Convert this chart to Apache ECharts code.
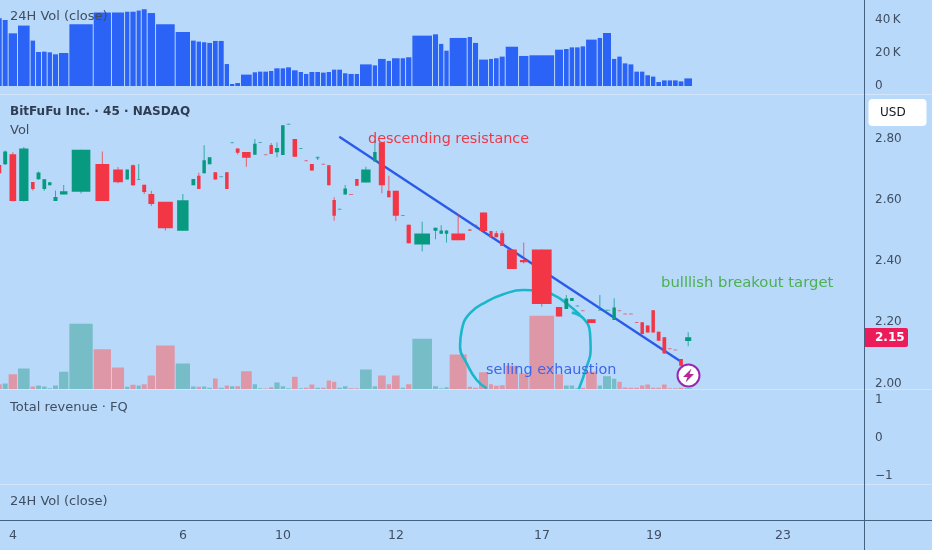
<!DOCTYPE html>
<html><head><meta charset="utf-8">
<style>html,body{margin:0;padding:0;background:#B9D9FB}#c{width:932px;height:550px}</style>
<script src="https://cdn.jsdelivr.net/npm/echarts@6/dist/echarts.min.js"></script>
</head><body><div id="c"></div><script>
// bar open time, minutes from the left edge of the window
const barTime=[-24,22,70,146,248,292,340,386,429,478,562,759,907,1013,1056,1107,1148,1196,1264,1423,1547,1593,1636,1679,1725,1771,1820,1863,1906,1952,2047,2090,2133,2179,2222,2273,2317,2365,2419,2462,2506,2554,2600,2646,2689,2732,2778,2822,2873,2916,3019,3062,3132,3175,3245,3289,3340,3507,3556,3599,3642,3788,3831,3880,3961,4001,4047,4096,4204,4288,4496,4568,4614,4658,4703,4747,4841,4884,4957,5000,5044,5090,5138,5184,5227,5273,5316,5362,5408,5451,5497,5543];
const lastBarEnd=5613;
const vol24h=[41.0,40.0,31.9,36.6,27.5,20.6,20.8,20.4,19.2,20.0,37.4,44.6,44.6,45.0,45.0,45.7,46.5,44.2,37.4,32.7,27.5,26.9,26.5,26.1,27.3,27.3,13.3,1.2,1.8,6.9,8.3,8.7,8.7,9.1,10.7,10.7,11.3,9.5,8.5,7.3,8.5,8.5,8.1,8.5,9.9,9.9,7.7,7.3,7.3,13.1,12.5,16.4,15.2,16.8,16.8,17.4,30.5,31.3,25.5,21.4,29.1,29.7,26.1,16.0,16.4,16.8,17.8,23.8,18.2,18.6,22.0,22.4,23.4,23.4,24.0,28.1,29.1,32.1,16.4,17.8,13.7,13.1,8.7,8.7,6.5,5.7,2.4,3.4,3.4,3.4,2.8,4.6];
const volume=[16,18,46,63,9,12,9,4,12,53,197,121,66,8,14,12,16,42,132,78,9,8,9,5,33,5,12,10,10,55,16,4,3,7,21,10,4,38,4,5,15,5,5,27,23,5,10,4,4,60,10,42,16,42,5,16,152,10,4,7,105,8,5,52,16,11,13,71,48,221,46,12,12,4,5,53,12,40,32,23,6,5,5,12,15,5,5,15,4,4,5,4];
const open=[2.716,2.718,2.751,2.598,2.660,2.669,2.637,2.649,2.598,2.619,2.628,2.719,2.701,2.668,2.715,2.668,2.651,2.621,2.595,2.500,2.649,2.680,2.689,2.718,2.692,2.677,2.692,2.788,2.770,2.758,2.749,2.789,2.751,2.781,2.757,2.748,2.849,2.801,2.769,2.731,2.719,2.737,2.720,2.715,2.601,2.570,2.619,2.621,2.670,2.658,2.727,2.789,2.631,2.631,2.550,2.520,2.455,2.500,2.490,2.490,2.491,2.505,2.520,2.560,2.499,2.492,2.492,2.439,2.404,2.439,2.250,2.244,2.270,2.253,2.240,2.210,2.240,2.239,2.208,2.240,2.229,2.229,2.201,2.200,2.190,2.240,2.169,2.151,2.115,2.111,2.080,2.139];
const close=[2.689,2.760,2.598,2.770,2.637,2.691,2.669,2.659,2.611,2.630,2.766,2.598,2.659,2.701,2.649,2.670,2.627,2.588,2.508,2.600,2.670,2.637,2.731,2.741,2.668,2.679,2.637,2.790,2.756,2.739,2.785,2.791,2.749,2.752,2.771,2.846,2.851,2.743,2.771,2.729,2.698,2.743,2.718,2.649,2.549,2.572,2.639,2.619,2.648,2.701,2.758,2.649,2.610,2.549,2.552,2.459,2.491,2.510,2.501,2.501,2.469,2.499,2.518,2.499,2.479,2.479,2.450,2.375,2.397,2.260,2.219,2.278,2.280,2.255,2.238,2.198,2.241,2.241,2.249,2.238,2.228,2.228,2.199,2.162,2.167,2.167,2.140,2.098,2.114,2.110,2.058,2.151];
const high=[2.727,2.763,2.757,2.775,2.660,2.694,2.669,2.659,2.632,2.650,2.766,2.760,2.709,2.701,2.717,2.719,2.651,2.631,2.595,2.621,2.670,2.690,2.780,2.741,2.692,2.679,2.692,2.790,2.770,2.758,2.801,2.791,2.751,2.788,2.789,2.846,2.851,2.801,2.771,2.731,2.719,2.743,2.720,2.715,2.610,2.572,2.650,2.621,2.670,2.710,2.798,2.789,2.680,2.631,2.552,2.520,2.530,2.510,2.518,2.501,2.555,2.505,2.520,2.560,2.499,2.499,2.501,2.439,2.462,2.439,2.250,2.290,2.280,2.255,2.240,2.210,2.290,2.241,2.279,2.240,2.229,2.229,2.201,2.200,2.190,2.240,2.169,2.151,2.115,2.111,2.080,2.168];
const low=[2.689,2.716,2.596,2.596,2.632,2.667,2.631,2.649,2.598,2.619,2.622,2.598,2.656,2.668,2.647,2.668,2.621,2.581,2.501,2.500,2.649,2.637,2.689,2.718,2.668,2.677,2.637,2.788,2.750,2.710,2.749,2.789,2.749,2.752,2.741,2.748,2.849,2.743,2.769,2.729,2.698,2.732,2.718,2.649,2.533,2.570,2.619,2.619,2.648,2.658,2.727,2.623,2.610,2.532,2.550,2.459,2.432,2.472,2.490,2.462,2.469,2.499,2.518,2.499,2.479,2.479,2.450,2.375,2.393,2.251,2.219,2.244,2.270,2.253,2.238,2.198,2.240,2.239,2.208,2.238,2.228,2.228,2.199,2.162,2.167,2.167,2.140,2.098,2.114,2.110,2.058,2.122];
// x-axis tick labels and the times they sit at
const dayLabels=['4','6','10','12','17','19','23'];
const dayTimes=[105,1482,2292,3208,4390,5297,6342];
const vol24Ticks=[0,20,40];
const priceTicks=[2.0,2.2,2.4,2.6,2.8];
const revenueTicks=[-1,0,1];
const lastPrice=2.15;
// hand-drawn annotations on the chart: [time, price]
const trendLine=[[2748,2.808],[5508,2.073]];
const circleStroke1=[[3942,1.984],[3861,2.011],[3780,2.066],[3726,2.120],[3740,2.175],[3807,2.230],[3942,2.268],[4077,2.292],[4239,2.306],[4374,2.304],[4482,2.290],[4590,2.262],[4698,2.224]];
const circleStroke2=[[4631,2.232],[4725,2.213],[4779,2.164],[4784,2.109],[4752,2.055],[4685,1.978]];
const noteResistance='descending resistance';
const noteTarget='bulllish breakout target';
const noteExhaustion='selling exhaustion';

const UP='#089981',DOWN='#F23645',VOLUP='#76BDC8',VOLDOWN='#DE97A7',BLUE='#2B63F6';
const FONT='"DejaVu Sans",sans-serif',TXT='#3F4E62';
const XMAX=6998;
const rows=barTime.map((t,i)=>[t,i+1<barTime.length?barTime[i+1]:lastBarEnd,vol24h[i],volume[i],open[i],high[i],low[i],close[i]]);

function barRender(valueDim,colorFn){
  return function(params,api){
    const x0=api.coord([api.value(0),0])[0],x1=api.coord([api.value(1),0])[0];
    const top=api.coord([api.value(0),api.value(valueDim)])[1];
    const base=params.coordSys.y+params.coordSys.height;
    return {type:'rect',shape:{x:x0,y:top,width:Math.max(1,x1-x0-1),height:base-top},style:{fill:colorFn(params.dataIndex)}};
  };
}
function candleRender(params,api){
  const i=params.dataIndex;
  const x0=api.coord([api.value(0),0])[0],x1=api.coord([api.value(1),0])[0];
  const cx=(x0+x1-1)/2,w=(x1-x0-1)*0.8;
  const yO=api.coord([0,api.value(4)])[1],yH=api.coord([0,api.value(5)])[1],yL=api.coord([0,api.value(6)])[1],yC=api.coord([0,api.value(7)])[1];
  const c=close[i]>=open[i]?UP:DOWN;
  const top=Math.min(yO,yC),h=Math.abs(yO-yC),thin=h<2;
  return {type:'group',children:[
    {type:'rect',shape:{x:cx-0.5,y:yH,width:1,height:yL-yH},style:{fill:c,opacity:.75}},
    {type:'rect',shape:{x:cx-w/2,y:top,width:w,height:Math.max(1,h)},style:{fill:c,opacity:thin?.6:1}}
  ]};
}
function txt(x,y,s,fill,size,weight){return {type:'text',z:100,x:x,y:y,style:{text:s,fill:fill,font:(weight||'normal')+' '+size+'px '+FONT,textVerticalAlign:'middle'}};}
function hline(y,color,w){return {type:'line',z:50,shape:{x1:0,y1:y,x2:932,y2:y},style:{stroke:color,lineWidth:w||1}};}
const hiddenX=g=>({type:'value',gridIndex:g,min:0,max:XMAX,show:false});
const axisY=(g,min,max,ticks,fmt)=>({type:'value',gridIndex:g,position:'right',min:min,max:max,
  axisLine:{show:false},axisTick:{show:false},splitLine:{show:false},
  axisLabel:{customValues:ticks,margin:11,color:TXT,fontSize:12,fontFamily:FONT,formatter:fmt,showMinLabel:true,showMaxLabel:true}});

const chart=echarts.init(document.getElementById('c'),null,{renderer:'canvas'});
chart.setOption({
  animation:false,backgroundColor:'#B9D9FB',
  grid:[
    {left:0,width:864,top:0,height:86},
    {left:0,width:864,top:95,height:294.5},
    {left:0,width:864,top:390,height:94},
    {left:0,width:864,top:485,height:35}
  ],
  xAxis:[hiddenX(0),hiddenX(1),hiddenX(2),
    {type:'value',gridIndex:3,min:0,max:XMAX,splitLine:{show:false},axisTick:{show:false},axisLine:{show:false},
     axisLabel:{customValues:dayTimes,margin:9,color:TXT,fontSize:12.5,fontFamily:FONT,formatter:v=>dayLabels[dayTimes.indexOf(v)]}}
  ],
  yAxis:[
    axisY(0,0,52.1,vol24Ticks,v=>v===0?'0':v+'\u2009K'),
    axisY(1,1.98,2.945,priceTicks,v=>v.toFixed(2)),
    {type:'value',gridIndex:1,min:0,max:883.5,show:false},
    axisY(2,-1.22,1.26,revenueTicks,v=>v<0?'\u2212'+Math.abs(v):String(v)),
    {type:'value',gridIndex:3,min:0,max:1,show:false}
  ],
  series:[
    {type:'custom',name:'24H Vol (close)',xAxisIndex:0,yAxisIndex:0,data:rows,clip:true,renderItem:barRender(2,()=>BLUE),encode:{x:[0,1],y:2},z:2},
    {type:'custom',name:'Vol',xAxisIndex:1,yAxisIndex:2,data:rows,clip:true,renderItem:barRender(3,i=>close[i]>=open[i]?VOLUP:VOLDOWN),encode:{x:[0,1],y:3},z:2},
    {type:'line',xAxisIndex:1,yAxisIndex:1,data:circleStroke1,smooth:.5,showSymbol:false,clip:true,lineStyle:{color:'#1AB7CB',width:2.6},z:3},
    {type:'line',xAxisIndex:1,yAxisIndex:1,data:circleStroke2,smooth:.5,showSymbol:false,clip:true,lineStyle:{color:'#1AB7CB',width:2.6},z:3},
    {type:'line',xAxisIndex:1,yAxisIndex:1,data:trendLine,showSymbol:false,clip:true,lineStyle:{color:'#2A5BE8',width:2.4},z:3},
    {type:'custom',name:'BitFuFu Inc.',xAxisIndex:1,yAxisIndex:1,data:rows,clip:true,renderItem:candleRender,encode:{x:[0,1],y:[4,5,6,7]},z:4}
  ],
  graphic:[
    hline(94.5,'#D2E5FC'),hline(389.5,'#D2E5FC'),hline(484.5,'#D2E5FC'),hline(520.5,'#44627F'),
    {type:'line',z:51,shape:{x1:864.5,y1:0,x2:864.5,y2:550},style:{stroke:'#44627F',lineWidth:1}},
    txt(10,17,'24H Vol (close)',TXT,13),
    txt(10,112,'BitFuFu Inc. \u00b7 45 \u00b7 NASDAQ','#2F3D52',12,'bold'),
    txt(10,131,'Vol',TXT,13),
    txt(10,408,'Total revenue \u00b7 FQ',TXT,13),
    txt(10,502,'24H Vol (close)',TXT,13),
    txt(368,139,noteResistance,'#F23645',14.4),
    txt(661,283,noteTarget,'#4CAF50',14.8),
    txt(486,370,noteExhaustion,'#3F66E6',14.4),
    {type:'rect',z:60,shape:{x:868.5,y:99,width:58,height:27,r:4},style:{fill:'#fff'}},
    txt(880,112.5,'USD','#131722',12),
    {type:'rect',z:60,shape:{x:865,y:328,width:43,height:19,r:[0,2,2,0]},style:{fill:'#EC1C5B'}},
    txt(875,338,lastPrice.toFixed(2),'#fff',12,'bold'),
    {type:'circle',z:70,shape:{cx:688.5,cy:375.5,r:11},style:{fill:'#fff',stroke:'#9C27B0',lineWidth:2}},
    {type:'polygon',z:71,shape:{points:[[691.5,368.5],[683,377],[687.5,377],[685.5,382.5],[694,374],[689.5,374]]},style:{fill:'#B5289A'}}
  ]
});
</script></body></html>
